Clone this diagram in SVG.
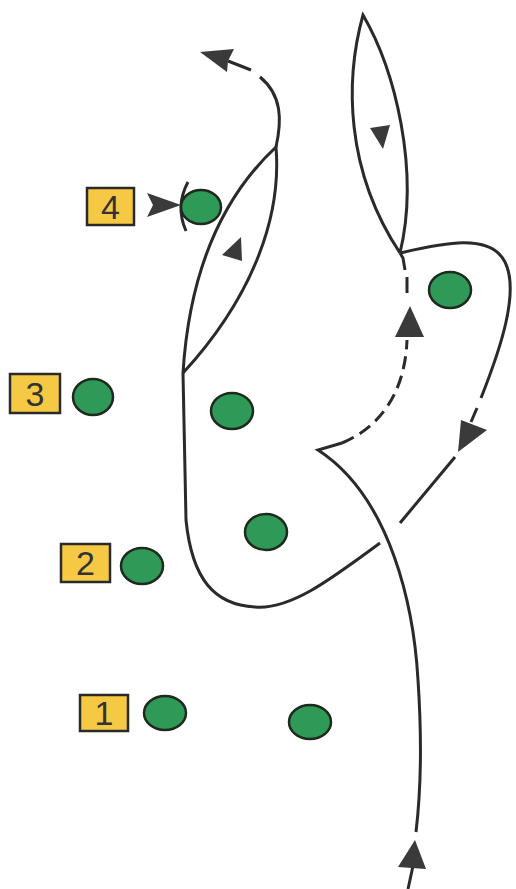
<svg xmlns="http://www.w3.org/2000/svg" width="516" height="889" viewBox="0 0 516 889">
<style>
.ln{fill:none;stroke:#2a2a2a;stroke-width:3;stroke-linecap:butt}
.ah{fill:#3a3a3a;stroke:none}
.pl{fill:#2f9a57;stroke:#1f2a1f;stroke-width:2.5}
.bx{fill:#f6c945;stroke:#2a2a2a;stroke-width:2.5}
.lb{font-family:"Liberation Sans",Arial,sans-serif;font-size:34px;fill:#333;text-anchor:middle}
</style>
<rect width="516" height="889" fill="#ffffff"/>
<g id="connectors">
  <!-- bottom approach -->
  <path class="ln" d="M408,889 L413,866"/>
  <polygon class="ah" points="415,840 426,869 398,867"/>
  <path class="ln" d="M416,832 C421,790 422,740 418,680 C414,610 392,498 318,450 L342,443"/>
  <!-- dashed return to upper lens -->
  <path class="ln" d="M342,443 C378,428 405,395 407,340" stroke-dasharray="13 7"/>
  <polygon class="ah" points="410,306 424,337 395,337"/>
  <path class="ln" d="M407,293 L407,277 M405,270 L403,258 L400,253"/>
  <!-- upper lens -->
  <path class="ln" d="M400,253 C345,170 345,80 363,15 C395,70 420,170 400,253"/>
  <polygon class="ah" points="370,128 390,125 383,149"/>
  <!-- right loop -->
  <path class="ln" d="M400,253 C440,244 490,232 505,262 C520,292 500,350 481,398"/>
  <path class="ln" d="M477,408 L471,422"/>
  <polygon class="ah" points="458,452 461,420 487,430"/>
  <path class="ln" d="M455,457 L400,523"/>
  <!-- lower left loop -->
  <path class="ln" d="M380,543 C330,580 290,610 255,607 C215,605 192,580 186,520 L183,373"/>
  <!-- left lens -->
  <path class="ln" d="M183,373 C190,260 230,190 276,147 C282,220 250,300 183,373"/>
  <polygon class="ah" points="241,237 222,255 242,261"/>
  <!-- exit -->
  <path class="ln" d="M276,147 C282,120 282,95 260,77"/>
  <path class="ln" d="M251,70 L228,61"/>
  <polygon class="ah" points="200,52 234,49 228,61 227,72"/>
  <!-- player 4 pressure -->
  <polygon class="ah" points="147,193 181,205 147,217 153,205"/>
  <path class="ln" d="M188,182 Q175,206 186,231"/>
</g>
<g id="p4"><rect class="bx" x="87" y="188" width="47" height="37"/><text class="lb" x="110.5" y="219">4</text><ellipse class="pl" cx="201" cy="207" rx="20" ry="17"/></g>
<g id="p3"><rect class="bx" x="10" y="374" width="50" height="39"/><text class="lb" x="35" y="406">3</text><ellipse class="pl" cx="93" cy="397" rx="20" ry="18"/></g>
<g id="p2"><rect class="bx" x="61" y="544" width="49" height="38"/><text class="lb" x="85.5" y="575">2</text><ellipse class="pl" cx="142" cy="566" rx="21" ry="18"/></g>
<g id="p1"><rect class="bx" x="80" y="695" width="48" height="36"/><text class="lb" x="104" y="725">1</text><ellipse class="pl" cx="165" cy="713" rx="21" ry="17"/></g>
<g id="d1"><ellipse class="pl" cx="310" cy="722" rx="21" ry="17"/></g>
<g id="d2"><ellipse class="pl" cx="266" cy="532" rx="21" ry="18"/></g>
<g id="d3"><ellipse class="pl" cx="232" cy="411" rx="21" ry="18"/></g>
<g id="d4"><ellipse class="pl" cx="450" cy="290" rx="21" ry="18"/></g>
</svg>
